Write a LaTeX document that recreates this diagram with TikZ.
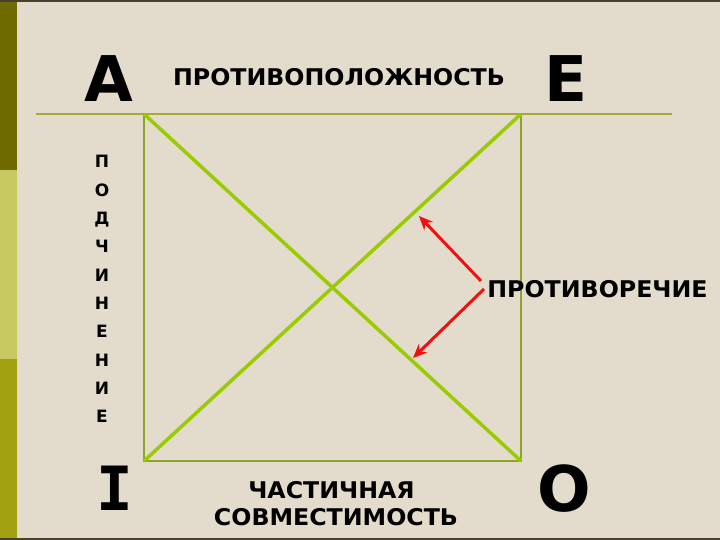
\documentclass[tikz,border=0pt]{standalone}
\usepackage{fontspec}
\setmainfont{DejaVu Sans}
\newfontfamily\slabfont{DejaVu Sans Mono}
\usetikzlibrary{arrows.meta}
\definecolor{bgbeige}{HTML}{E3DBCC}
\definecolor{bardark}{HTML}{6E6A00}
\definecolor{barlight}{HTML}{C8C860}
\definecolor{barmid}{HTML}{A0A010}
\definecolor{edgedark}{HTML}{4A4030}
\definecolor{sqcol}{HTML}{8EA32B}
\definecolor{hlcol}{HTML}{A8A838}
\definecolor{diagcol}{HTML}{99CC00}
\definecolor{arrred}{HTML}{F01010}
\tikzset{
  bigletter/.style={font=\bfseries\fontsize{63}{63}\selectfont, inner sep=0pt, anchor=base},
  label/.style={font=\bfseries\fontsize{23}{25}\selectfont, inner sep=0pt, anchor=base, xscale=1.03},
  vletter/.style={font=\bfseries\fontsize{17}{17}\selectfont, inner sep=0pt, anchor=base},
  sqline/.style={draw=sqcol, line width=2.5pt},
  diagline/.style={draw=diagcol, line width=3.5pt},
  redarrow/.style={draw=arrred, line width=3pt, -{Stealth[length=14pt,width=12pt]}}
}
\begin{document}
\begin{tikzpicture}[x=1pt,y=-1pt]
\useasboundingbox (0,0) rectangle (720,540);
% background
\fill[bgbeige] (0,0) rectangle (720,540);
\fill[bardark] (0,0) rectangle (17,170);
\fill[barlight] (0,170) rectangle (17,359);
\fill[barmid] (0,359) rectangle (17,540);
\fill[edgedark] (0,0) rectangle (720,2.5);
\fill[edgedark] (0,537.5) rectangle (720,540);
% corners
\coordinate (TL) at (144,114);
\coordinate (TR) at (521,114);
\coordinate (BL) at (144,461);
\coordinate (BR) at (521,461);
\coordinate (HL) at (36,114);
\coordinate (HR) at (672,114);
% long top line
\draw[draw=hlcol, line width=2.5pt] (HL) -- (HR);
% square
\draw[sqline] (TL) -- (BL) -- (BR) -- (TR);
% diagonals
\draw[diagline] (TL) -- (BR);
\draw[diagline] (TR) -- (BL);
% big letters
\node[bigletter] (A) at (108.5,102) {A};
\node[bigletter] (E) at (566,102) {E};
\node[bigletter, font=\slabfont\bfseries\fontsize{61}{61}\selectfont] (I) at (115,510) {I};
\node[bigletter] (O) at (564,511) {O};
% labels
\node[label] (opp) at (339,86) {ПРОТИВОПОЛОЖНОСТЬ};
\node[label] (contr) at (597.5,297) {ПРОТИВОРЕЧИЕ};
\node[label] (part1) at (331.5,498) {ЧАСТИЧНАЯ};
\node[label] (part2) at (336,525) {СОВМЕСТИМОСТЬ};
% vertical word
\foreach \ch [count=\i from 0] in {П,О,Д,Ч,И,Н,Е,Н,И,Е}{
  \node[vletter] (v\i) at (102,168+28.3*\i) {\ch};
}
% red arrows
\coordinate (tail1) at (481,281);
\coordinate (tail2) at (484,289);
\coordinate (head1) at (419,216);
\coordinate (head2) at (413,358);
\draw[redarrow] (tail1) -- (head1);
\draw[redarrow] (tail2) -- (head2);
\end{tikzpicture}
\end{document}
